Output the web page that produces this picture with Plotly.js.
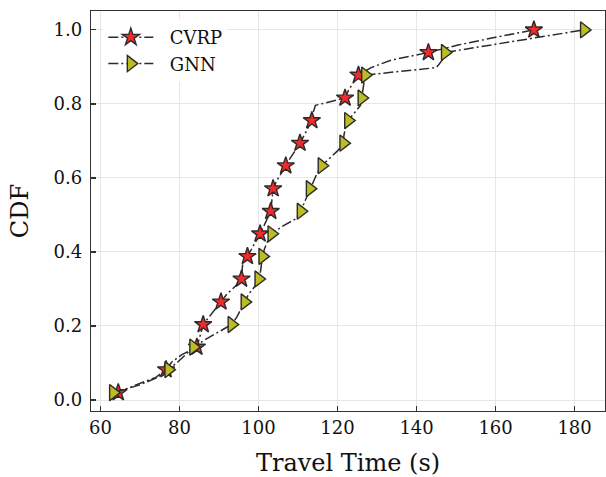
<!DOCTYPE html>
<html><head><meta charset="utf-8">
<script src="https://cdn.plot.ly/plotly-3.0.1.min.js"></script>
<style>html,body{margin:0;padding:0;background:#fff;}#chart{width:606px;height:477px;}</style>
</head><body><div id="chart"></div>
<script>
const cdfLevels = [0.020, 0.041, 0.061, 0.082, 0.102, 0.122, 0.143, 0.163, 0.184, 0.204,
  0.224, 0.245, 0.265, 0.286, 0.306, 0.327, 0.347, 0.367, 0.388, 0.408,
  0.429, 0.449, 0.469, 0.490, 0.510, 0.531, 0.551, 0.571, 0.592, 0.612,
  0.633, 0.653, 0.673, 0.694, 0.714, 0.735, 0.755, 0.776, 0.796, 0.816,
  0.837, 0.857, 0.878, 0.898, 0.918, 0.939, 0.959, 0.980, 1.000];

// Travel times (s)
const cvrpTime = [64.5, 69.0, 74.0, 76.6, 78.0, 80.5, 84.4, 85.0, 85.5, 86.0,
  87.5, 89.0, 90.5, 92.0, 94.0, 95.7, 95.8, 96.0, 97.2, 98.3,
  99.4, 100.4, 101.3, 102.2, 103.1, 103.3, 103.5, 103.7, 104.6, 105.8,
  106.9, 108.0, 109.3, 110.5, 111.5, 112.5, 113.5, 113.8, 114.4, 121.9,
  122.8, 124.0, 125.3, 128.5, 133.5, 143.0, 150.5, 160.0, 169.7];

const gnnTime = [63.2, 70.0, 74.5, 77.2, 79.5, 81.5, 83.5, 86.5, 90.0, 93.2,
  94.5, 95.5, 96.5, 97.5, 99.0, 100.0, 100.5, 100.8, 101.0, 101.5,
  102.3, 103.3, 106.0, 109.5, 110.7, 111.5, 112.3, 113.0, 113.8, 114.8,
  116.0, 118.0, 120.0, 121.5, 121.6, 122.0, 122.7, 124.3, 125.8, 126.1,
  126.4, 126.7, 127.0, 145.0, 146.5, 147.2, 158.5, 170.5, 182.4];

const seriesNames = ['CVRP', 'GNN'];
const xTicks = [60, 80, 100, 120, 140, 160, 180];
const yTicks = [0.0, 0.2, 0.4, 0.6, 0.8, 1.0];

const markEvery = 3;
function markIdx(arr){ const out=[]; for(let i=0;i<arr.length;i+=markEvery) out.push(i); return out; }

const lineStyle = {color:'#2b2b2b', width:1.5, dash:'10px,3px,2px,3px'};

function mk(name, xs, symbol, fill, size){
  return {
    type:'scatter', mode:'lines+markers', name:'\u00a0\u00a0' + name,
    x: xs, y: cdfLevels,
    line: lineStyle,
    marker:{symbol:symbol, size:size, color:fill, line:{color:'#2b2b2b', width:1.4}},
    selectedpoints: markIdx(xs),
    selected:{marker:{opacity:1}},
    unselected:{marker:{opacity:0}},
    hoverinfo:'skip'
  };
}

const traces = [
  mk(seriesNames[0], cvrpTime, 'star', '#f42a2a', 13),
  mk(seriesNames[1], gnnTime, 'triangle-right', '#bcbd22', 14)
];

const axisCommon = {
  ticks:'inside', ticklen:5, tickwidth:1.2, tickcolor:'#333',
  showline:true, mirror:true, linecolor:'#333', linewidth:1.2,
  showgrid:true, gridcolor:'#e6e6e6', gridwidth:1, zeroline:false,
  tickfont:{size:18, color:'#111'}
};

const layout = {
  width:606, height:477,
  margin:{l:91, r:1, t:11, b:66},
  paper_bgcolor:'#fff', plot_bgcolor:'#fff',
  font:{family:'DejaVu Serif', size:18, color:'#111'},
  showlegend:true,
  xaxis:Object.assign({}, axisCommon, {
    range:[57.6, 187.7], tickvals:xTicks,
    title:{text:'Travel Time (s)', font:{size:24}, standoff:19}
  }),
  yaxis:Object.assign({}, axisCommon, {
    range:[-0.0297, 1.051], tickvals:yTicks, tickformat:'.1f',
    ticklabelstandoff:4,
    title:{text:'CDF', font:{size:24}, standoff:18}
  }),
  legend:{x:0.024, y:0.98, xanchor:'left', yanchor:'top', bgcolor:'#fff',
    borderwidth:0, font:{size:18}, itemwidth:45}
};

Plotly.newPlot('chart', traces, layout, {staticPlot:true, displayModeBar:false});
</script>
</body></html>
